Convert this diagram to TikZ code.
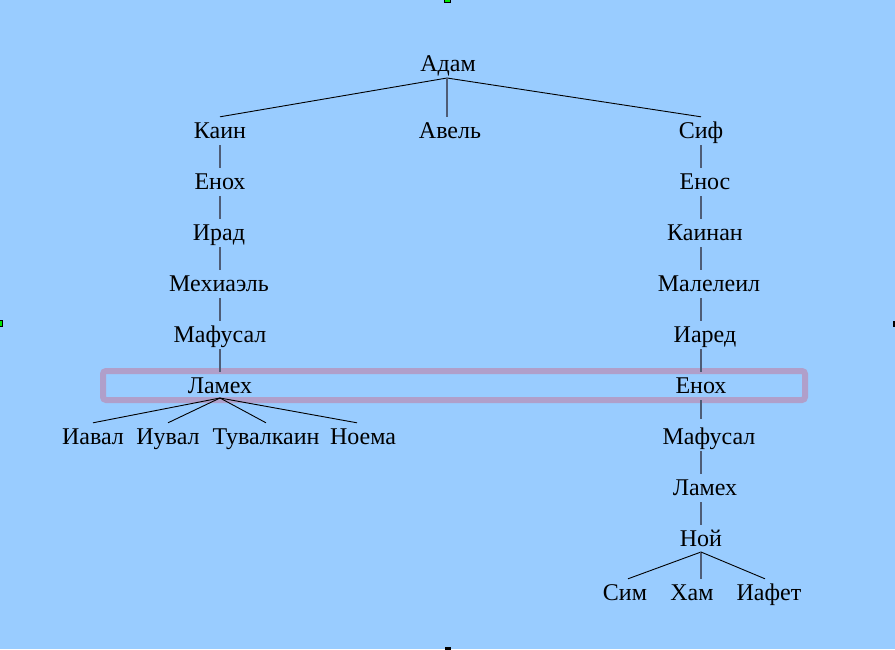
\documentclass[tikz,border=0pt]{standalone}
\usepackage{fontspec}
\setmainfont{Liberation Serif}
\newfontfamily\serf{Liberation Serif}
\definecolor{bgblue}{RGB}{153,204,255}
\definecolor{vline}{RGB}{78,92,118}
\definecolor{boxc}{RGB}{200,115,150}
\begin{document}
\begin{tikzpicture}[x=1pt,y=-1pt,
  nm/.style={font=\serf\fontsize{24}{28}\selectfont, inner xsep=2pt, inner ysep=0pt, text height=21pt, text depth=7pt, anchor=base},
  vl/.style={draw=vline, line width=1.6pt},
  dl/.style={draw=black, line width=0.9pt},
  handle/.style={draw=black, line width=0.8pt, fill=green!90!black}]
\fill[bgblue] (0,0) rectangle (895,649);
\useasboundingbox (0,0) rectangle (895,649);
% highlight box
\draw[boxc, opacity=0.5, line width=6pt, rounded corners=3pt] (103,371) rectangle (805,400);
% nodes
\node[nm] (adam) at (448,71) {Адам};
\node[nm] (kain) at (220,138) {Каин};
\node[nm] (avel) at (450,138) {Авель};
\node[nm] (sif) at (701,138) {Сиф};
\node[nm] (enoh1) at (220,189) {Енох};
\node[nm] (irad) at (219,240) {Ирад};
\node[nm] (mehia) at (219,291) {Мехиаэль};
\node[nm] (mafu1) at (220,342) {Мафусал};
\node[nm] (lameh1) at (220,393) {Ламех};
\node[nm] (iaval) at (93,444) {Иавал};
\node[nm] (iuval) at (168,444) {Иувал};
\node[nm] (tuval) at (266,444) {Тувалкаин};
\node[nm] (noema) at (363,444) {Ноема};
\node[nm] (enos) at (705,189) {Енос};
\node[nm] (kainan) at (705,240) {Каинан};
\node[nm] (malel) at (709,291) {Малелеил};
\node[nm] (iared) at (705,342) {Иаред};
\node[nm] (enoh2) at (701,393) {Енох};
\node[nm] (mafu2) at (709,444) {Мафусал};
\node[nm] (lameh2) at (705,495) {Ламех};
\node[nm] (noi) at (701,546) {Ной};
\node[nm] (sim) at (625,600) {Сим};
\node[nm] (ham) at (692,600) {Хам};
\node[nm] (iafet) at (769,600) {Иафет};
% junctions
\coordinate (ja) at (447,78);
\coordinate (jl) at (220,398);
\coordinate (jn) at (701,552);
\coordinate (col) at (701,0);
% connectors
\draw[dl] (ja) -- (kain.north);
\draw[dl] (ja) -- (sif.north);
\draw[vl] (ja) -- (ja |- avel.north);
\draw[vl] (kain.south) -- (enoh1.north);
\draw[vl] (enoh1.south) -- (irad.north -| enoh1.south);
\draw[vl] (irad.south -| enoh1.south) -- (mehia.north -| enoh1.south);
\draw[vl] (mehia.south -| enoh1.south) -- (mafu1.north);
\draw[vl] (mafu1.south) -- (lameh1.north);
\draw[dl] (jl) -- (iaval.north);
\draw[dl] (jl) -- (iuval.north);
\draw[dl] (jl) -- (tuval.north);
\draw[dl] (jl) -- ([xshift=-6pt]noema.north);
\draw[vl] (sif.south) -- (col |- enos.north);
\draw[vl] (col |- enos.south) -- (col |- kainan.north);
\draw[vl] (col |- kainan.south) -- (col |- malel.north);
\draw[vl] (col |- malel.south) -- (col |- iared.north);
\draw[vl] (col |- iared.south) -- (enoh2.north);
\draw[vl] (enoh2.south) -- ([yshift=4pt]col |- mafu2.north);
\draw[vl] (col |- mafu2.south) -- (col |- lameh2.north);
\draw[vl] (col |- lameh2.south) -- (noi.north);
\draw[dl] (jn) -- ([xshift=3pt]sim.north);
\draw[vl] (jn) -- (jn |- ham.north);
\draw[dl] (jn) -- ([xshift=-4pt]iafet.north);
% handles
\draw[handle] (444.5,-2) rectangle (450.5,2.5);
\draw[handle] (-2,320.5) rectangle (2.5,326.5);
\fill[black] (892.5,320.5) rectangle (897,326.5);
\fill[black] (444.5,646.5) rectangle (450.5,651);
\end{tikzpicture}
\end{document}
